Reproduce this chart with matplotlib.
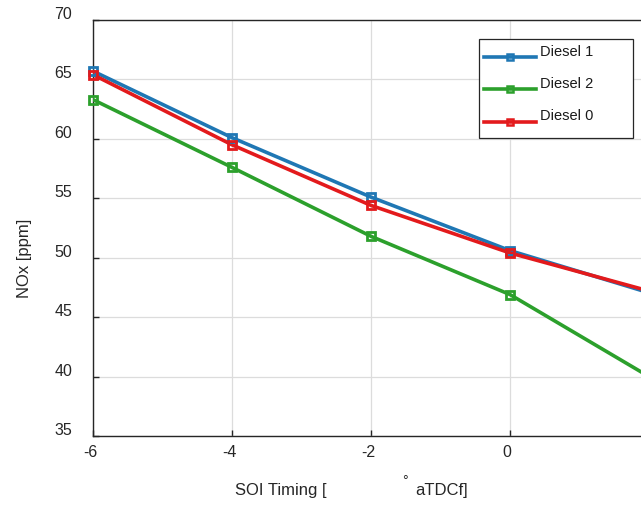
import matplotlib
matplotlib.use("Agg")
import matplotlib.pyplot as plt
from matplotlib.lines import Line2D
from matplotlib.patches import Rectangle

plt.rcParams['font.family'] = ['Liberation Sans', 'DejaVu Sans']

soi = [-6, -4, -2, 0, 2]
diesel1 = [65.7, 60.1, 55.1, 50.6, 47.05]
diesel2 = [63.3, 57.6, 51.8, 46.9, 40.0]
diesel0 = [65.4, 59.5, 54.4, 50.4, 47.2]
series_names = ['Diesel 1', 'Diesel 2', 'Diesel 0']
series_colors = ['#1f77b4', '#2ca02c', '#e31a1c']
xticks = [-6, -4, -2, 0]
yticks = [35, 40, 45, 50, 55, 60, 65, 70]

W, H = 641, 505
fig = plt.figure(figsize=(W / 100, H / 100), dpi=100)
left, top, bottom = 93, 20, 436
ax = fig.add_axes([left / W, (H - bottom) / H, (W - left) / W, (bottom - top) / H])

LW, MS, MEW = 2.6, 5.5, 2.0
for vals, name, col in zip([diesel1, diesel2, diesel0], series_names, series_colors):
    ax.plot(soi, vals, color=col, lw=LW, label=name, zorder=3)
    ax.plot(soi, vals, ls='none', marker='s', ms=MS, mew=MEW,
            mfc='none', mec=col, clip_on=False, zorder=4)

x_per_px = 2 / 139.0
ax.set_xlim(-6, -6 + (W - left) * x_per_px)
ax.set_ylim(35, 70)
ax.set_xticks(xticks)
ax.set_yticks(yticks)
ax.grid(True, color='#dcdcdc', lw=0.9)
ax.set_axisbelow(True)
ax.tick_params(direction='in', length=4, width=1, color='#262626',
               labelbottom=False, labelleft=False)
for s in ['left', 'bottom', 'top']:
    ax.spines[s].set_color('#262626')
    ax.spines[s].set_linewidth(1.0)
ax.spines['right'].set_visible(False)

for v in yticks:
    ax.annotate(str(v), xy=(0, v), xycoords=('axes fraction', 'data'),
                xytext=(-15, 4), textcoords='offset points',
                ha='right', va='center', fontsize=11.5, color='#262626')
for v in xticks:
    ax.annotate(str(v), xy=(v, 0), xycoords=('data', 'axes fraction'),
                xytext=(-2, -12), textcoords='offset points',
                ha='center', va='center', fontsize=11.5, color='#262626')

fig.text(25 / W, 1 - 258 / H, 'NOx [ppm]', rotation=90, ha='center', va='center',
         fontsize=12, color='#262626')
fig.text(235 / W, 1 - 491 / H, 'SOI Timing [', ha='left', va='center',
         fontsize=12, color='#262626')
fig.text(405 / W, 1 - 481 / H, '°', ha='center', va='center',
         fontsize=10, color='#262626')
fig.text(415 / W, 1 - 491 / H, 'aTDCf]', ha='left', va='center',
         fontsize=12, color='#262626')

# legend box with sample lines and labels (figure pixel coordinates)
def fx(px):
    return px / W

def fy(py):
    return 1 - py / H

box = Rectangle((fx(479), fy(138)), fx(633) - fx(479), fy(39) - fy(138),
                transform=fig.transFigure, facecolor='white', edgecolor='#262626',
                lw=0.9, zorder=10)
fig.add_artist(box)
for i, (name, col) in enumerate(zip(series_names, series_colors)):
    yl = 57 + i * 32.5
    fig.add_artist(Line2D([fx(484), fx(536)], [fy(yl), fy(yl)], color=col, lw=LW,
                          transform=fig.transFigure, zorder=11))
    fig.add_artist(Line2D([fx(510)], [fy(yl)], ls='none', marker='s', ms=4.5,
                          mew=1.8, mfc='none', mec=col,
                          transform=fig.transFigure, zorder=12))
    fig.text(fx(540), fy(yl - 5.5), name, ha='left', va='center', fontsize=10.5,
             color='#1a1a1a', zorder=12)

fig.savefig('out.png', dpi=100, facecolor='white')
